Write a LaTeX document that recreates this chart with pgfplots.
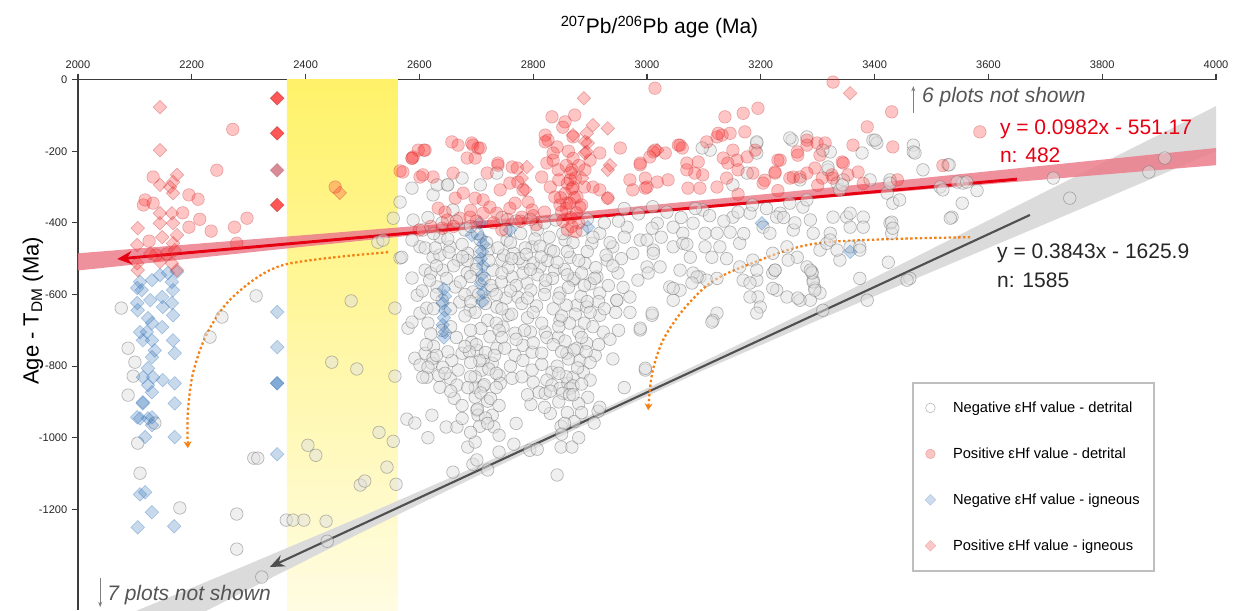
\documentclass[border=0pt]{standalone}
\usepackage{fontspec}
\setmainfont{Liberation Sans}
\usepackage{pgfplots}
\pgfplotsset{compat=1.18}
\usetikzlibrary{arrows.meta}
\definecolor{redline}{RGB}{230,0,18}
\definecolor{redband}{RGB}{236,125,140}
\definecolor{greyband}{RGB}{219,219,219}
\definecolor{darkline}{RGB}{80,80,80}
\definecolor{orangearr}{RGB}{245,128,20}
\definecolor{ptred}{RGB}{255,45,45}
\definecolor{ptredd}{RGB}{190,50,50}
\definecolor{ptblue}{RGB}{50,115,185}
\definecolor{ptmuted}{RGB}{205,110,125}
\definecolor{yel1}{RGB}{255,242,105}
\definecolor{yel2}{RGB}{255,247,165}
\definecolor{yel3}{RGB}{255,252,226}
\definecolor{axisgrey}{RGB}{60,60,60}
\definecolor{notegrey}{RGB}{85,85,85}
\definecolor{legframe}{RGB}{190,190,190}
\pgfplotsset{
  greyc/.style={only marks, mark=*, mark size=4.7pt, mark options={draw=black!60, draw opacity=0.48, fill=black!12, fill opacity=0.5, line width=0.5pt}},
  redc/.style={only marks, mark=*, mark size=4.7pt, mark options={draw=ptredd, draw opacity=0.35, fill=ptred, fill opacity=0.28, line width=0.5pt}},
  blued/.style={only marks, mark=square*, mark size=3.6pt, mark options={rotate=45, draw=ptblue, draw opacity=0.35, fill=ptblue, fill opacity=0.27, line width=0.5pt}},
  bluedark/.style={only marks, mark=square*, mark size=3.6pt, mark options={rotate=45, draw=ptblue, draw opacity=0.6, fill=ptblue, fill opacity=0.6, line width=0.5pt}},
  redd/.style={only marks, mark=square*, mark size=3.6pt, mark options={rotate=45, draw=ptredd, draw opacity=0.35, fill=ptred, fill opacity=0.28, line width=0.5pt}},
  reddbright/.style={only marks, mark=square*, mark size=3.6pt, mark options={rotate=45, draw=ptredd, draw opacity=0.6, fill=ptred, fill opacity=0.8, line width=0.5pt}},
  reddmuted/.style={only marks, mark=square*, mark size=3.6pt, mark options={rotate=45, draw=ptmuted, draw opacity=0.6, fill=ptmuted, fill opacity=0.8, line width=0.5pt}},
}
\begin{document}
\begin{tikzpicture}
\useasboundingbox (0,0) rectangle (925.5pt,-457.5pt);
\begin{axis}[
  at={(58.5pt,-59.7pt)}, anchor=north west,
  scale only axis, width=853.5pt, height=397.8pt,
  xmin=2000, xmax=4000, ymin=-1481, ymax=0,
  axis x line=top, axis y line=left,
  axis line style={-, axisgrey, line width=1pt},
  xtick={2000,2200,...,4000}, ytick={-1200,-1000,...,0},
  tick align=outside, major tick length=4.5pt,
  tick style={axisgrey, line width=0.8pt},
  tick label style={font=\fontsize{8.3}{10}\selectfont, text=black!85},
  /pgf/number format/assume math mode=true,
  /pgf/number format/1000 sep={},
  scaled ticks=false,
  xlabel={\textsuperscript{207}Pb/\textsuperscript{206}Pb age (Ma)},
  xlabel style={at={(axis description cs:0.511,1.099)}, anchor=center, font=\fontsize{15.75}{18}\selectfont},
  ylabel={Age - T\textsubscript{DM} (Ma)},
  ylabel style={at={(axis description cs:-0.0395,0.564)}, anchor=center, font=\fontsize{16.5}{18}\selectfont},
  legend style={at={(axis description cs:0.733,0.430)}, anchor=north west, draw=legframe, line width=1.5pt, fill=white, inner xsep=9pt, inner ysep=12pt, row sep=21pt, font=\fontsize{11}{13}\selectfont, cells={anchor=west}},
  legend image post style={xshift=6pt},
  legend cell align=left,
]
% yellow band
\addplot[draw=none, top color=yel1, middle color=yel2, bottom color=yel3, forget plot] coordinates {(2367,0)(2562,0)(2562,-1481)(2367,-1481)(2367,0)};
% grey confidence band
\addplot[draw=none, fill=greyband, forget plot] coordinates {(2100,-1485)(2300,-1353)(2500,-1219)(2700,-1080)(2900,-937)(3100,-787)(3300,-632)(3500,-473)(3700,-313)(3900,-154)(4000,-74)(4000,-200)(3900,-268)(3700,-403)(3500,-537)(3300,-672)(3100,-811)(2900,-957)(2700,-1108)(2500,-1263)(2300,-1423)(2100,-1585)};
% red band
\addplot[draw=none, fill=redband, fill opacity=0.85, forget plot] coordinates {(2000,-485)(2400,-434)(2800,-382)(3200,-321)(3600,-256)(4000,-191)(4000,-239)(3600,-292)(3200,-345)(2800,-400)(2400,-466)(2000,-533)};
% grey circles: negative eHf detrital
\addplot[greyc, forget plot] coordinates {
(2076,-638)(2088,-750)(2100,-789)(2097,-828)(2088,-881)(2313,-604)(2253,-663)(2232,-719)(2480,-618)(2446,-789)(2490,-808)(2557,-638)(2557,-828)(2554,-387)(2566,-498)(2527,-454)(2536,-448)(2105,-1015)(2109,-1099)(2135,-959)(2179,-1196)(2279,-1213)(2279,-1311)(2309,-1057)(2316,-1057)(2404,-1021)(2418,-1049)(2529,-985)(2554,-1010)(2543,-1082)(2496,-1132)(2504,-1121)(2559,-1130)(2366,-1230)(2378,-1230)(2397,-1230)(2436,-1233)(2438,-1289)(2578,-948)(2592,-959)(2323,-1389)
(2622,-937)(2647,-970)(2666,-970)(2675,-946)(2685,-1026)(2698,-1012)(2694,-1074)(2701,-1062)(2659,-1096)(2701,-923)(2703,-937)(2728,-937)(2731,-970)(2740,-993)(2766,-1018)(2794,-1035)(2807,-1032)(2849,-968)(2849,-1026)(2868,-1026)(2842,-1104)(2907,-959)(2914,-926)(2830,-932)(2796,-907)(2661,-890)(2698,-887)(2636,-859)(2634,-826)(2592,-778)(2601,-797)(2613,-831)(2622,-792)(2580,-694)(2587,-677)(2601,-652)(2610,-764)(2654,-834)(2666,-853)(2698,-859)(2712,-856)(2740,-826)(2742,-848)(2763,-834)(2768,-770)(2782,-784)(2782,-742)(2798,-761)(2815,-764)(2798,-811)(2800,-845)(2810,-873)(2821,-876)(2833,-817)(2824,-839)(2833,-853)(2847,-862)(2861,-848)(2870,-831)(2888,-817)(2900,-839)(2896,-887)(2917,-915)(2865,-862)(2852,-876)(2821,-705)(2844,-719)(2847,-672)(2859,-764)(2877,-750)(2882,-784)(2894,-736)(2909,-770)(2917,-658)(2923,-705)(2947,-616)(2988,-699)(2997,-811)(3009,-658)(2768,-708)(2756,-658)(2747,-691)(2736,-750)(2728,-792)(2712,-784)(2710,-811)(2701,-756)(2692,-733)(2675,-764)(2668,-811)(2657,-784)(2641,-803)(2624,-778)(2615,-803)(2606,-831)
(2587,-303)(2566,-342)(2589,-392)(2569,-496)(2587,-554)(2596,-602)(2613,-638)(2610,-532)(2624,-496)(2636,-440)(2624,-322)(2649,-294)(2675,-275)(2707,-294)(2659,-364)(2680,-420)(2654,-467)(2668,-504)(2684,-540)(2663,-579)(2671,-621)(2689,-644)(2694,-593)(2721,-476)(2729,-532)(2728,-588)(2736,-635)(2745,-504)(2754,-448)(2765,-485)(2763,-551)(2773,-607)(2789,-568)(2782,-513)(2798,-467)(2807,-420)(2812,-523)(2821,-579)(2830,-476)(2838,-532)(2847,-596)(2856,-448)(2865,-496)(2870,-560)(2877,-630)(2886,-420)(2891,-513)(2903,-457)(2912,-551)(2917,-429)(2930,-504)(2940,-467)(2949,-540)(2965,-412)(2975,-485)(2988,-448)(3000,-523)(3011,-476)(3018,-401)(2970,-607)(2947,-616)(2984,-560)(2917,-596)(2894,-635)(2701,-513)(2710,-560)(2712,-616)(2707,-448)(2685,-485)(2641,-532)(2631,-579)(2640,-616)(2601,-467)(2587,-448)(2606,-420)
(3009,-415)(3000,-448)(3011,-485)(3023,-523)(3002,-540)(3046,-412)(3046,-467)(3063,-429)(3063,-457)(3058,-532)(3076,-496)(3081,-401)(3098,-364)(3102,-429)(3102,-467)(3093,-551)(3111,-197)(3114,-496)(3123,-429)(3128,-467)(3146,-426)(3151,-384)(3163,-457)(3163,-523)(3169,-560)(3186,-504)(3193,-560)(3195,-607)(3181,-373)(3193,-177)(3193,-205)(3176,-261)(3204,-412)(3216,-429)(3221,-485)(3221,-540)(3234,-373)(3251,-345)(3257,-420)(3246,-467)(3264,-496)(3255,-169)(3269,-280)(3274,-356)(3281,-336)(3287,-392)(3292,-429)(3281,-523)(3292,-560)(3295,-582)(3287,-616)(3304,-596)(3304,-476)(3316,-457)(3322,-429)(3327,-384)(3322,-202)(3318,-252)(3334,-289)(3339,-308)(3345,-280)(3351,-384)(3357,-412)(3357,-467)(3339,-504)(3374,-467)(3380,-384)(3392,-280)(3397,-169)(3387,-616)(3404,-177)(3422,-317)(3427,-280)(3432,-345)(3427,-401)(3430,-429)(3444,-336)(3468,-183)(3468,-202)(3485,-252)(3462,-555)(3515,-300)(3529,-238)(3536,-384)(3554,-345)(3555,-289)(3545,-286)(3562,-286)
(3281,-160)(3309,-197)(3318,-244)(3343,-294)(3401,-169)(3378,-205)(3471,-205)(3531,-238)(3427,-289)(3520,-308)(3714,-275)(3882,-258)(3910,-219)(3743,-331)(3193,-174)(3251,-163)(3097,-191)(3357,-373)(3380,-412)(3430,-398)(3432,-415)(3533,-387)(3290,-537)(3292,-565)(3295,-588)(3269,-616)(3374,-476)(3322,-448)(3334,-476)(3580,-310)
(3040,-579)(3058,-588)(3046,-616)(3081,-540)(3105,-560)(3123,-652)(3009,-652)(3116,-672)(3193,-532)(3199,-635)(3225,-532)(3228,-588)(3246,-607)(3265,-610)(3290,-540)(3309,-644)(3181,-568)(3457,-560)(3424,-510)(3374,-555)(3193,-652)(2988,-694)(2997,-806)(3046,-583)(3088,-551)(3114,-677)(3079,-568)(3123,-555)(3181,-607)(3221,-583)(3225,-532)(3228,-384)(3248,-504)(3287,-532)
(2631,-294)(2650,-294)(2736,-261)(3151,-294)
(2702,-430)(2718,-455)(2706,-480)(2722,-505)(2700,-530)(2714,-555)(2726,-575)(2704,-600)(2716,-625)(2698,-650)(2720,-672)(2708,-695)(2724,-718)(2700,-740)(2716,-762)(2706,-785)(2722,-808)(2698,-830)(2714,-852)(2708,-875)(2720,-898)(2702,-920)(2716,-945)(2706,-968)(2690,-700)(2735,-680)(2688,-760)(2732,-770)(2690,-830)(2735,-860)
(2852,-430)(2870,-455)(2860,-480)(2880,-505)(2855,-530)(2872,-555)(2862,-580)(2884,-605)(2858,-630)(2874,-655)(2864,-680)(2880,-705)(2856,-730)(2872,-755)(2862,-780)(2878,-805)(2858,-830)(2870,-855)(2864,-880)(2880,-905)(2860,-930)(2872,-955)(2890,-680)(2845,-690)(2893,-760)(2842,-800)
(2745,-385)(2770,-395)(2795,-390)(2820,-400)(2840,-392)(2752,-420)(2778,-430)(2803,-445)(2828,-440)(2760,-455)(2786,-470)(2812,-465)(2836,-480)(2748,-490)(2775,-500)(2800,-512)(2825,-505)(2756,-525)(2782,-540)(2808,-545)(2834,-555)(2744,-565)(2770,-575)(2796,-588)(2820,-600)(2752,-610)(2780,-625)(2806,-632)(2835,-640)(2762,-655)(2790,-665)(2815,-680)(2740,-700)(2795,-705)(2824,-720)(2770,-725)
(2615,-385)(2640,-400)(2665,-395)(2690,-410)(2625,-430)(2650,-445)(2675,-460)(2610,-470)(2636,-490)(2660,-520)(2684,-505)(2620,-540)(2648,-555)(2672,-565)(2605,-590)(2630,-600)(2655,-640)(2680,-660)(2615,-680)(2640,-700)(2665,-720)(2625,-745)(2650,-760)
(2895,-390)(2925,-400)(2950,-395)(2905,-440)(2935,-455)(2960,-440)(2895,-480)(2928,-490)(2955,-500)(2910,-525)(2940,-520)(2900,-570)(2932,-575)(2958,-580)(2915,-620)(2945,-650)(2905,-690)(2935,-725)
(2960,-360)(2985,-375)(3010,-355)(3035,-370)(3060,-385)(3085,-360)(3110,-380)(3135,-395)(3160,-370)(3185,-350)(3210,-360)(3240,-385)(3260,-400)(3025,-440)(3070,-460)(3140,-500)(3170,-430)
(2628,-470)(2652,-482)(2676,-495)(2738,-470)(2762,-500)(2788,-488)(2814,-495)(2842,-510)(2885,-540)(2908,-555)(2630,-520)(2690,-550)(2745,-540)(2795,-530)(2822,-560)(2860,-545)(2890,-575)(2618,-560)(2680,-600)(2735,-600)(2760,-590)(2790,-610)(2845,-610)(2895,-620)(2925,-640)(2625,-640)(2690,-620)(2745,-640)(2800,-650)(2850,-660)(2900,-650)(2620,-710)(2655,-690)(2745,-720)(2785,-700)(2835,-740)(2885,-720)(2915,-740)(2612,-740)(2680,-745)(2750,-750)(2800,-735)(2850,-760)(2900,-790)(2630,-770)(2690,-790)(2760,-800)(2815,-795)(2845,-820)(2885,-850)(2645,-820)(2735,-820)(2780,-830)(2830,-870)(2870,-880)(2655,-870)(2685,-860)(2725,-890)(2790,-880)(2845,-900)(2885,-930)(2675,-910)(2740,-910)(2820,-915)(2855,-960)(2690,-985)(2720,-960)(2850,-990)(2880,-1000)(2740,-1040)(2720,-1090)(2615,-1000)(2770,-960)(2960,-860)(2940,-780)(2950,-700)(2970,-650)
};
% blue diamonds: negative eHf igneous
\addplot[blued, forget plot] coordinates {
(2109,-565)(2104,-582)(2112,-588)(2127,-616)(2104,-624)(2105,-644)(2130,-560)(2144,-546)(2158,-540)(2174,-537)(2165,-565)(2167,-588)(2148,-607)(2149,-635)(2165,-624)(2167,-658)(2123,-666)(2130,-680)(2121,-705)(2130,-728)(2135,-756)(2109,-705)(2114,-728)(2148,-691)(2130,-775)(2123,-806)(2132,-831)(2114,-831)(2123,-853)(2130,-873)(2114,-901)(2104,-943)(2130,-943)(2149,-839)(2167,-728)(2170,-764)(2170,-848)(2170,-904)(2350,-649)(2350,-747)(2109,-946)(2123,-946)(2130,-965)(2118,-998)(2170,-998)(2114,-904)(2350,-1046)(2118,-1152)(2109,-1158)(2130,-1208)(2105,-1250)(2169,-1247)
(2643,-585)(2645,-605)(2641,-625)(2645,-645)(2643,-665)(2641,-685)(2645,-705)(2643,-720)
(2708,-440)(2712,-460)(2710,-480)(2708,-500)(2712,-520)(2710,-545)(2708,-570)(2712,-595)(2710,-620)(2706,-400)(2692,-434)
(2759,-420)(2896,-412)(3202,-401)(3357,-481)
};
\addplot[bluedark, forget plot] coordinates {(2350,-848)};
% red circles: positive eHf detrital
\addplot[redc, forget plot] coordinates {
(2132,-272)(2195,-322)(2244,-253)(2272,-139)(2211,-334)(2118,-336)(2115,-350)(2132,-345)(2184,-372)(2214,-390)(2195,-412)(2234,-423)(2275,-412)(2297,-387)(2279,-457)(2125,-451)(2156,-487)(2137,-490)(2452,-300)
(2566,-255)(2587,-220)(2598,-197)(2601,-272)(2610,-197)(2589,-216)(2571,-258)(2657,-174)(2668,-183)(2694,-183)(2703,-191)(2684,-219)(2698,-219)(2738,-233)(2763,-244)(2772,-247)(2606,-266)(2624,-272)(2659,-261)(2719,-261)(2698,-331)(2712,-336)(2724,-356)(2742,-308)(2759,-289)(2768,-345)(2736,-373)(2712,-373)(2689,-384)(2671,-387)(2649,-392)(2633,-359)(2645,-370)(2663,-331)(2677,-317)(2773,-286)(2782,-308)(2791,-342)(2798,-364)(2759,-359)(2780,-384)(2815,-272)(2824,-233)(2826,-169)(2821,-155)(2842,-188)(2852,-133)(2835,-225)(2844,-252)(2830,-300)(2838,-328)(2847,-350)(2859,-345)(2865,-280)(2870,-300)(2877,-328)(2868,-252)(2882,-356)(2891,-252)(2900,-225)(2917,-205)(2905,-300)(2917,-308)(2931,-331)(2953,-191)(2970,-280)(2975,-308)(2988,-233)(3000,-300)(2997,-275)(3005,-216)(3011,-202)
(2833,-104)(2856,-118)(2873,-99)(2870,-160)(3014,-24)(2692,-177)(2707,-191)(2608,-197)(2587,-219)(2738,-239)(2821,-174)(2835,-205)(3032,-205)(3058,-183)(3070,-233)(3084,-261)(3098,-266)(3123,-160)(3137,-104)(3169,-94)(3195,-80)(3132,-155)(3146,-150)(3151,-197)(3230,-225)(3225,-261)(3207,-281)(3265,-211)(3281,-183)(3257,-272)
(2988,-238)(3014,-197)(3018,-286)(3037,-280)(2997,-303)(3055,-183)(3062,-191)(3070,-252)(3072,-303)(3090,-230)(3093,-303)(3105,-174)(3125,-150)(3172,-146)(3134,-219)(3142,-233)(3158,-225)(3160,-252)(3140,-275)(3123,-300)(3176,-216)(3190,-197)(3186,-261)(3204,-289)(3234,-225)(3225,-258)(3251,-275)(3269,-272)(3264,-202)(3281,-169)(3299,-177)(3313,-177)(3304,-211)(3295,-247)(3308,-275)(3327,-275)(3343,-230)(3353,-266)(3362,-183)(3371,-258)(3387,-132)(3430,-90)(3432,-188)(3585,-146)(3327,-7)(3345,-233)(3281,-261)(3325,-266)
(2862,-200)(2870,-220)(2858,-240)(2866,-260)(2874,-275)(2860,-290)(2868,-305)(2856,-318)(2872,-330)(2864,-345)(2858,-360)(2876,-372)(2866,-385)(2852,-395)(2880,-400)(2868,-410)(2860,-420)(2885,-350)(2848,-330)(2890,-300)(2845,-280)(2880,-240)(2850,-370)(2875,-425)
(2700,-395)(2730,-400)(2755,-390)(2778,-395)(2800,-380)(2820,-370)(2690,-365)(2745,-420)(2660,-410)(2640,-415)(2620,-410)(2600,-420)(2805,-405)
(3160,-320)(3230,-310)(3300,-295)(3380,-290)(3440,-280)(3520,-240)
};
% red diamonds: positive eHf igneous
\addplot[redd, forget plot] coordinates {
(2144,-77)(2144,-197)(2144,-294)(2174,-266)(2167,-286)(2162,-300)(2167,-317)(2144,-373)(2165,-373)(2167,-401)(2144,-401)(2105,-415)(2174,-434)(2148,-440)(2104,-462)(2127,-485)(2167,-457)(2170,-476)(2104,-513)(2105,-532)(2144,-509)(2165,-513)(2174,-532)(2460,-316)
(2889,-52)(2905,-127)(2931,-136)(2894,-150)(2896,-177)(2891,-205)(2870,-155)(2935,-239)(2789,-244)(2780,-275)(2786,-308)(2891,-174)(2894,-202)(2886,-275)(2931,-252)(2931,-331)(3018,-197)(3357,-38)
};
\addplot[reddbright, forget plot] coordinates {(2350,-52)(2350,-150)(2350,-350)};
\addplot[reddmuted, forget plot] coordinates {(2350,-253)};
% regression lines with arrows
\addplot[redline, line width=2.2pt, -{Stealth[length=11pt,width=10pt]}, forget plot] coordinates {(3650,-278)(2069,-501)};
\addplot[darkline, line width=1.6pt, -{Stealth[length=11pt,width=9pt]}, forget plot] coordinates {(3673,-378)(2337,-1361)};
% orange dotted curved arrows
\addplot[orangearr, line width=1.7pt, dash pattern=on 1.8pt off 1.8pt, smooth, -{Stealth[length=5pt,width=6pt]}, forget plot] coordinates {(2545,-482)(2360,-518)(2272,-607)(2227,-708)(2202,-820)(2193,-931)(2193,-1029)};
\addplot[orangearr, line width=1.7pt, dash pattern=on 1.8pt off 1.8pt, smooth, -{Stealth[length=5pt,width=6pt]}, forget plot] coordinates {(3568,-440)(3304,-456)(3176,-518)(3111,-568)(3063,-644)(3028,-728)(3009,-820)(3002,-923)};
% "plots not shown" arrows
\addplot[black!50, line width=0.7pt, -{Stealth[length=4pt,width=3pt]}, forget plot] coordinates {(3468,-93)(3468,-18)};
\addplot[black!50, line width=0.7pt, -{Stealth[length=4pt,width=3pt]}, forget plot] coordinates {(2039,-1392)(2039,-1473)};
% annotations
\node[anchor=west, inner sep=0pt, text=notegrey, font=\fontsize{15.75}{18}\selectfont\itshape] at (axis cs:3483,-49) {6 plots not shown};
\node[anchor=west, inner sep=0pt, text=notegrey, font=\fontsize{15.75}{18}\selectfont\itshape] at (axis cs:2051,-1440) {7 plots not shown};
\node[anchor=west, inner sep=0pt, text=redline, font=\fontsize{15.75}{18}\selectfont] at (axis cs:3620,-138) {y = 0.0982x - 551.17};
\node[anchor=west, inner sep=0pt, text=redline, font=\fontsize{15.75}{18}\selectfont] at (axis cs:3620,-211) {n: 482};
\node[anchor=west, inner sep=0pt, text=black!85, font=\fontsize{15.75}{18}\selectfont] at (axis cs:3615,-484) {y = 0.3843x - 1625.9};
\node[anchor=west, inner sep=0pt, text=black!85, font=\fontsize{15.75}{18}\selectfont] at (axis cs:3615,-560) {n: 1585};
% legend
\addlegendimage{only marks, mark=*, mark size=3.6pt, mark options={draw=black!30, fill=white, line width=0.4pt}}
\addlegendentry{\hspace{11pt}Negative εHf value - detrital}
\addlegendimage{only marks, mark=*, mark size=3.6pt, mark options={draw={rgb,255:red,235;green,165;blue,165}, fill={rgb,255:red,249;green,196;blue,196}, line width=0.4pt}}
\addlegendentry{\hspace{11pt}Positive εHf value - detrital}
\addlegendimage{only marks, mark=square*, mark size=2.8pt, mark options={rotate=45, draw={rgb,255:red,180;green,200;blue,225}, fill={rgb,255:red,205;green,220;blue,238}, line width=0.4pt}}
\addlegendentry{\hspace{11pt}Negative εHf value - igneous}
\addlegendimage{only marks, mark=square*, mark size=2.8pt, mark options={rotate=45, draw={rgb,255:red,240;green,180;blue,180}, fill={rgb,255:red,250;green,200;blue,200}, line width=0.4pt}}
\addlegendentry{\hspace{11pt}Positive εHf value - igneous}
\end{axis}
\end{tikzpicture}
\end{document}
